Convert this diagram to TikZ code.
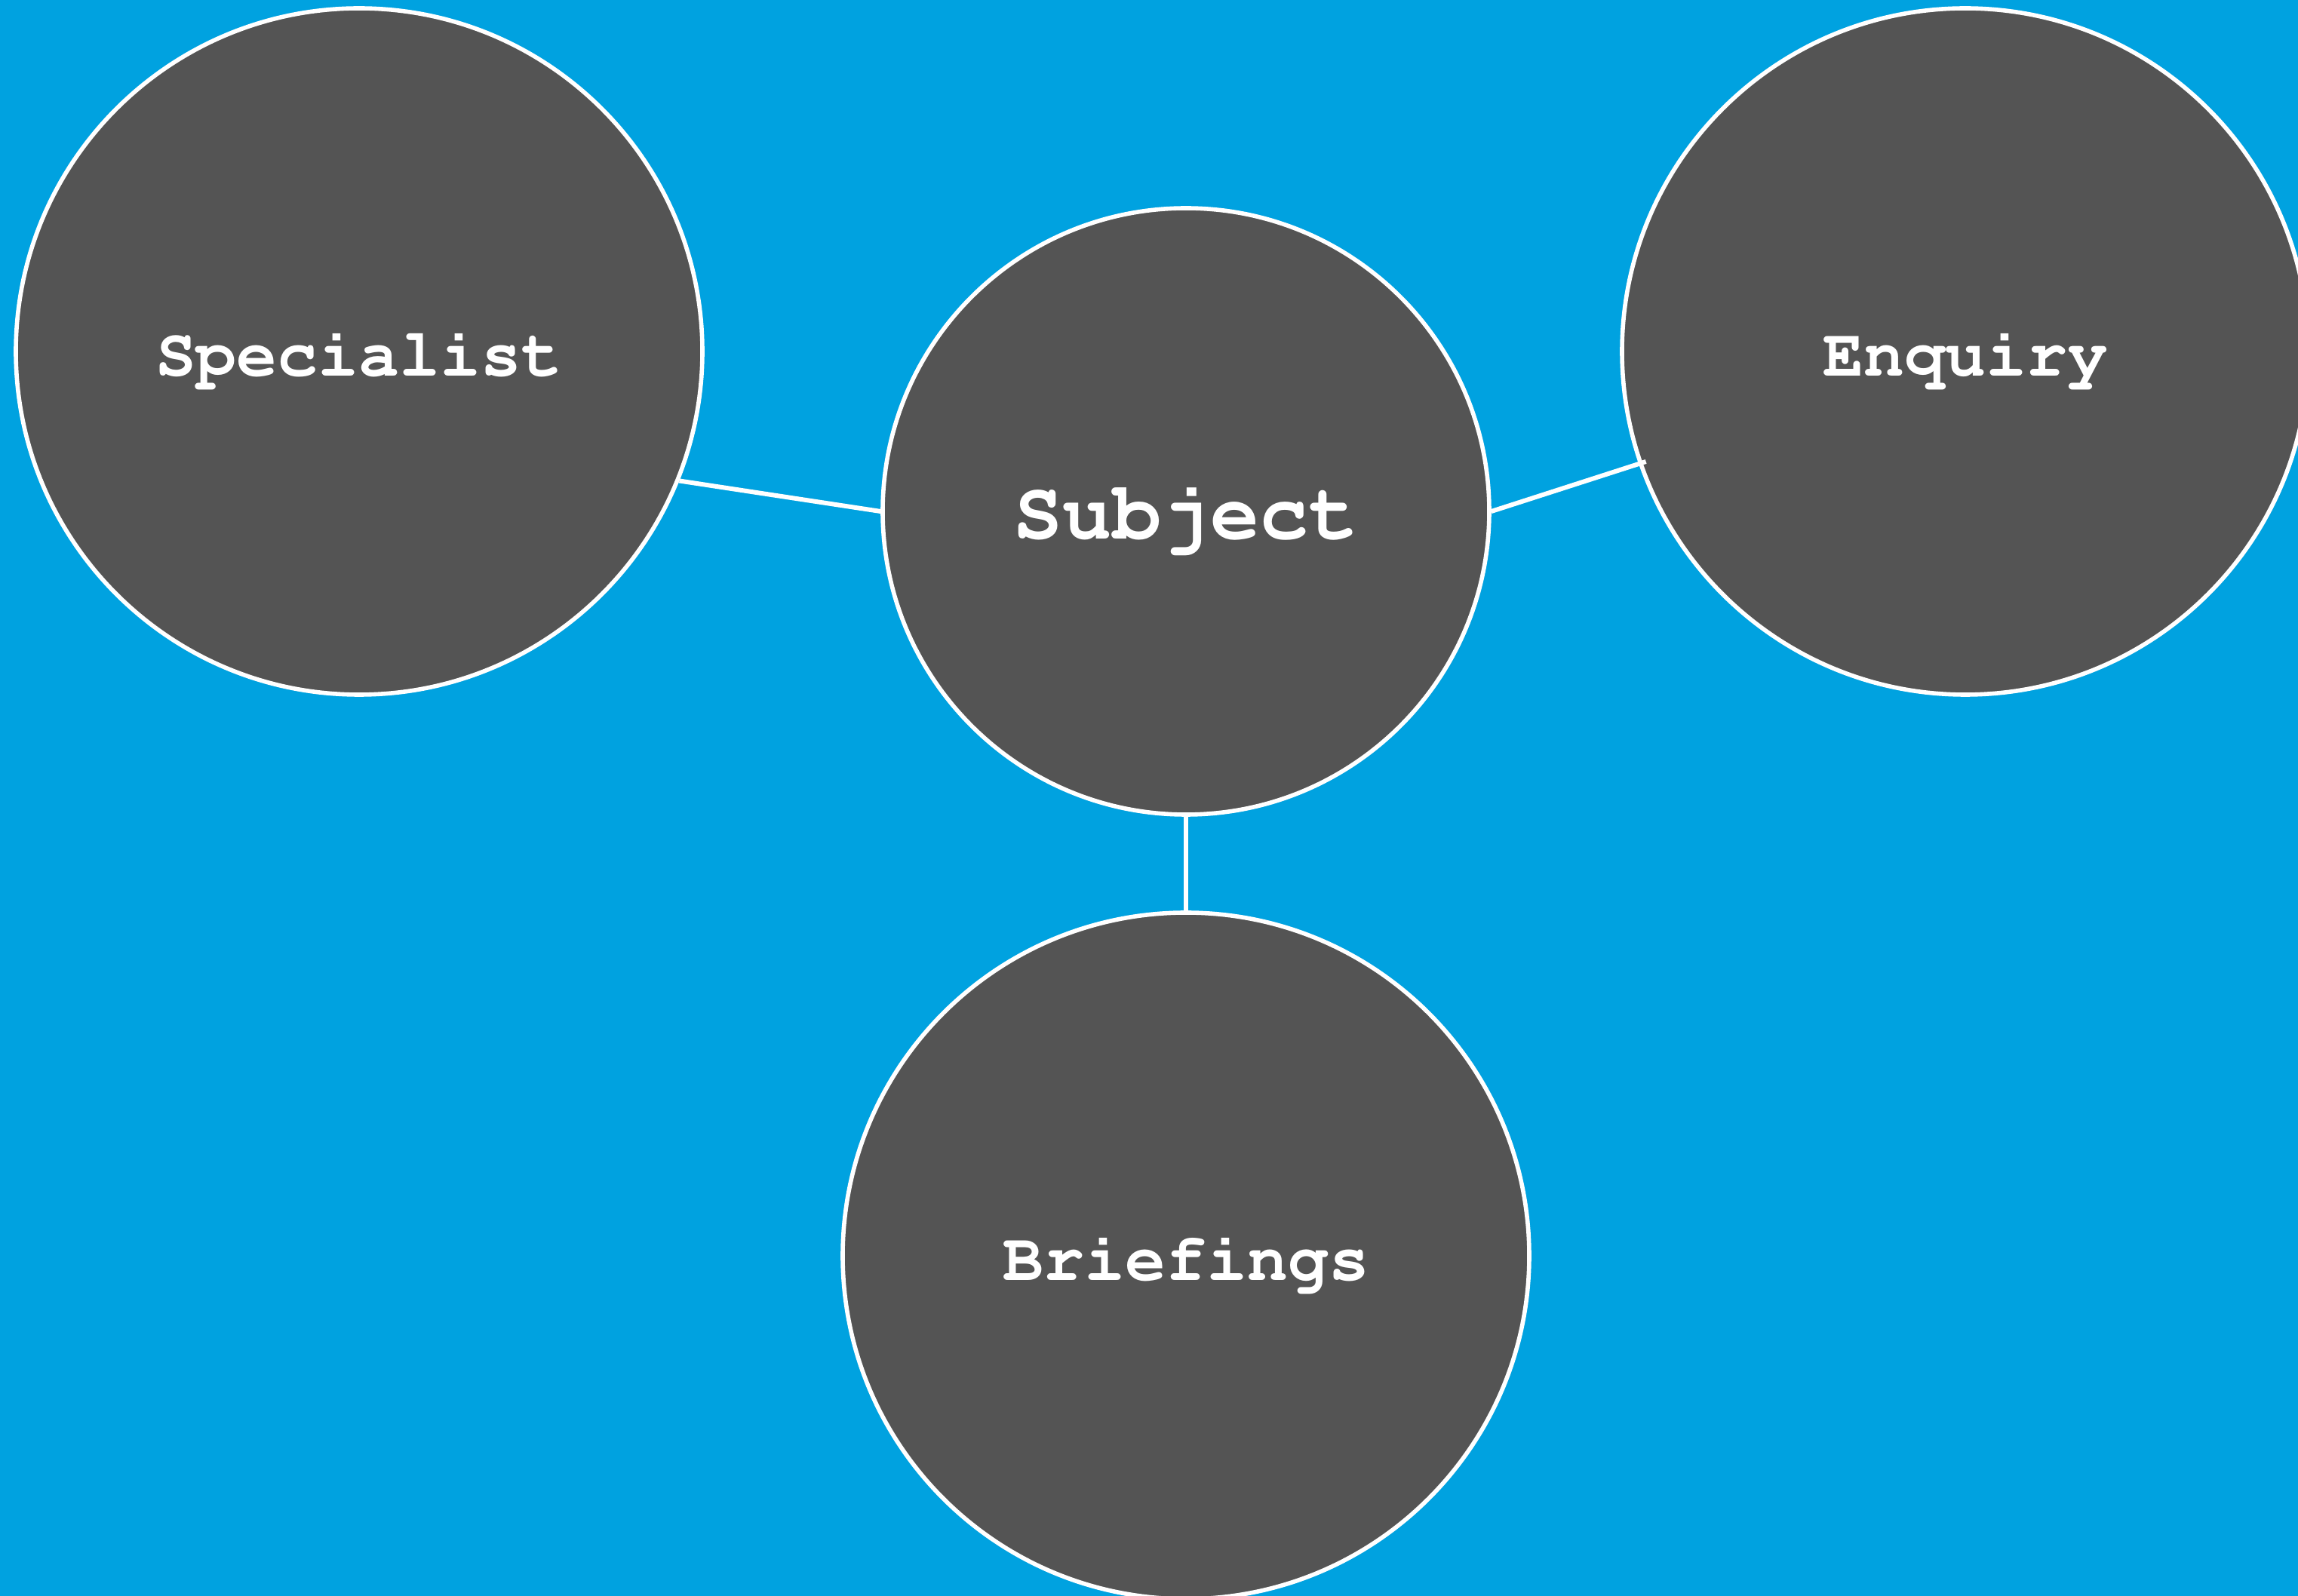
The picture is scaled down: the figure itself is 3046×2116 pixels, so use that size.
\documentclass[tikz,border=0pt]{standalone}
\usepackage[T1]{fontenc}
\definecolor{bgblue}{RGB}{0,162,224}
\definecolor{discgrey}{RGB}{84,84,84}
\tikzset{
  topic/.style={circle, draw=white, line width=1.4pt, fill=discgrey,
    text=white, minimum size=227.5pt, inner sep=0pt,
    text height=18pt, text depth=1.5pt,
    font=\fontfamily{pcr}\bfseries\fontsize{22.5}{26}\selectfont},
  hub/.style={topic, minimum size=201pt,
    text height=20pt, text depth=1.6pt,
    font=\fontfamily{pcr}\bfseries\fontsize{27.2}{31}\selectfont},
  link/.style={draw=white, line width=1.5pt}
}
\begin{document}
\begin{tikzpicture}[x=0.25pt,y=-0.25pt]
% Background
\fill[bgblue] (0,0) rectangle (3046,2116);
\clip (0,0) rectangle (3046,2116);
% Circles
\node[hub] (subject) at (1572,678) {Subject};
\node[topic] (specialist) at (476,466) {Specialist};
\node[topic] (enquiry) at (2605,466) {Enquiry};
\node[topic] (briefings) at (1572,1665) {Briefings};
% Connectors
\draw[link] (specialist.-22) -- (subject.west);
\draw[link, shorten >=-2.5pt] (subject.east) -- (enquiry.199);
\draw[link] (subject.south) -- (briefings.north);
\end{tikzpicture}
\end{document}
